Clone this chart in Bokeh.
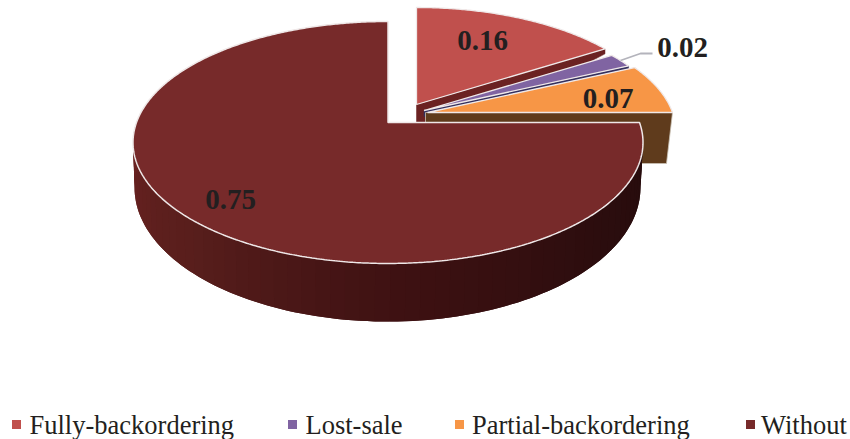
import numpy as np
from bokeh.core.properties import value
from bokeh.embed import file_html
from bokeh.models import ColumnDataSource, Range1d
from bokeh.plotting import figure
from bokeh.resources import INLINE

# Shares of each ordering policy
categories = ["Fully-backordering", "Lost-sale", "Partial-backordering", "Without"]
shares = [0.16, 0.02, 0.07, 0.75]
share_labels = ["0.16", "0.02", "0.07", "0.75"]
top_colors = ["#c0504d", "#8064a2", "#f79646", "#772a2a"]
legend_colors = ["#c0504d", "#8064a2", "#f79646", "#772a2a"]
side_colors = ["#6b2222", "#35305e", "#5f3b1c"]

W, H = 850, 439
PERSP = 0.165  # foreshortening of the disc's far half


def project(angle_deg, x0, y0, rx, ry):
    """Clockwise-from-top pie angle to page position on a tilted disc."""
    t = np.radians(angle_deg)
    u, v = np.sin(t), np.cos(t)
    d = 1 + PERSP * v
    return x0 + rx * u / d, y0 - ry * v / d


def wedge(a0, a1, x0, y0, rx, ry):
    ang = np.linspace(a0, a1, max(int(abs(a1 - a0) * 2), 4))
    xs, ys = project(ang, x0, y0, rx, ry)
    return [x0, *xs], [y0, *ys]


def lerp_color(stops, f):
    pos = [s[0] for s in stops]
    rgb = [np.interp(f, pos, [s[1][i] for s in stops]) for i in range(3)]
    return "#%02x%02x%02x" % tuple(int(round(c)) for c in rgb)


p = figure(width=W, height=H, output_backend="svg", toolbar_location=None,
           x_range=Range1d(0, W), y_range=Range1d(H, 0), min_border=0,
           background_fill_color="white", border_fill_color="white")
p.axis.visible = False
p.grid.visible = False
p.outline_line_color = None

edges = np.cumsum([0] + shares) * 360.0
RIM = "#efe8e8"

# Exploded wedges, rear to front: (apex x, apex y, radius x, radius y)
exploded = [(416, 104, 243, 113), (423.5, 110, 242, 112), (427, 112, 245, 113)]
rear_drop = [5, 3, 0]
apex_drop = [50, 6, 0]

for i in range(2):
    ax, ay, rx, ry = exploded[i]
    ex, ey = project(edges[i + 1], ax, ay, rx, ry)
    p.patch([ax, ex, ex, ax], [ay, ey, ey + rear_drop[i], ay + apex_drop[i]],
            fill_color=side_colors[i], line_color=side_colors[i], line_width=0.5)
    xs, ys = wedge(edges[i], edges[i + 1], ax, ay, rx, ry)
    p.patch(xs, ys, fill_color=top_colors[i], line_color=RIM, line_width=1.3)

# Partial-backordering: flat cut face below the wedge, then its top
ax, ay, rx, ry = exploded[2]
ex, ey = project(edges[3], ax, ay, rx, ry)
p.patch([ax - 2, ex, ex - 6, ax - 2], [ay, ey, ey + 51, ey + 51],
        fill_color=side_colors[2], line_color="#c9c0b4", line_width=0.8)
xs, ys = wedge(edges[2], edges[3], ax, ay, rx, ry)
p.patch(xs, ys, fill_color=top_colors[2], line_color=RIM, line_width=1.3)

# Main wedge: shaded outer wall painted right to left, each band overlapping
# the previous one so that no seams show
TOP = (387.5, 122, 251.5, 117.7)
BOTTOM = (387, 165, 249.5, 130.3)
steps = np.linspace(edges[3], 272, 64)
wall_stops = [(0.0, (36, 11, 12)), (0.25, (44, 13, 14)), (0.5, (62, 17, 18)),
              (0.75, (88, 30, 28)), (1.0, (106, 34, 33))]
wall_x, wall_y, wall_c = [], [], []
for j in range(len(steps) - 1):
    a0 = steps[max(j - 1, 0)]
    a1 = steps[j + 1]
    arc = np.linspace(a0, a1, 5)
    tx, ty = project(arc, *TOP)
    bx, by = project(arc[::-1], *BOTTOM)
    wall_x.append([*tx, *bx])
    wall_y.append([*ty, *by])
    wall_c.append(lerp_color(wall_stops, j / (len(steps) - 2)))
wall = ColumnDataSource(dict(xs=wall_x, ys=wall_y, c=wall_c))
p.patches("xs", "ys", source=wall, fill_color="c", line_color=None)

xs, ys = wedge(edges[3], edges[4], *TOP)
p.patch(xs, ys, fill_color=top_colors[3], line_color=RIM, line_width=1.5)

# Leader line for the smallest share
p.line([620, 640, 652], [60, 53, 53], line_color="#b4b4bc", line_width=1.8)

# Value labels
label_x = [482, 682, 607.5, 230]
label_y = [39.5, 46.5, 97.5, 198.5]
p.text(label_x, label_y, text=share_labels, text_font=value("Liberation Serif"),
       text_font_style="bold", text_font_size="29px", text_color="#231f20",
       text_align="center", text_baseline="middle")

# Legend row
swatch_x = [16, 292, 459, 750]
text_x = [29, 305, 471.5, 760.5]
row_y = 424
p.rect(swatch_x, [row_y] * 4, width=9, height=9, fill_color=legend_colors,
       line_color=None)
p.text(text_x, [row_y] * 4, text=categories, text_font=value("Liberation Serif"),
       text_font_size="26.5px", text_color="#231f20", text_align="left",
       text_baseline="middle")

open("out.html", "w").write(file_html(p, INLINE))
